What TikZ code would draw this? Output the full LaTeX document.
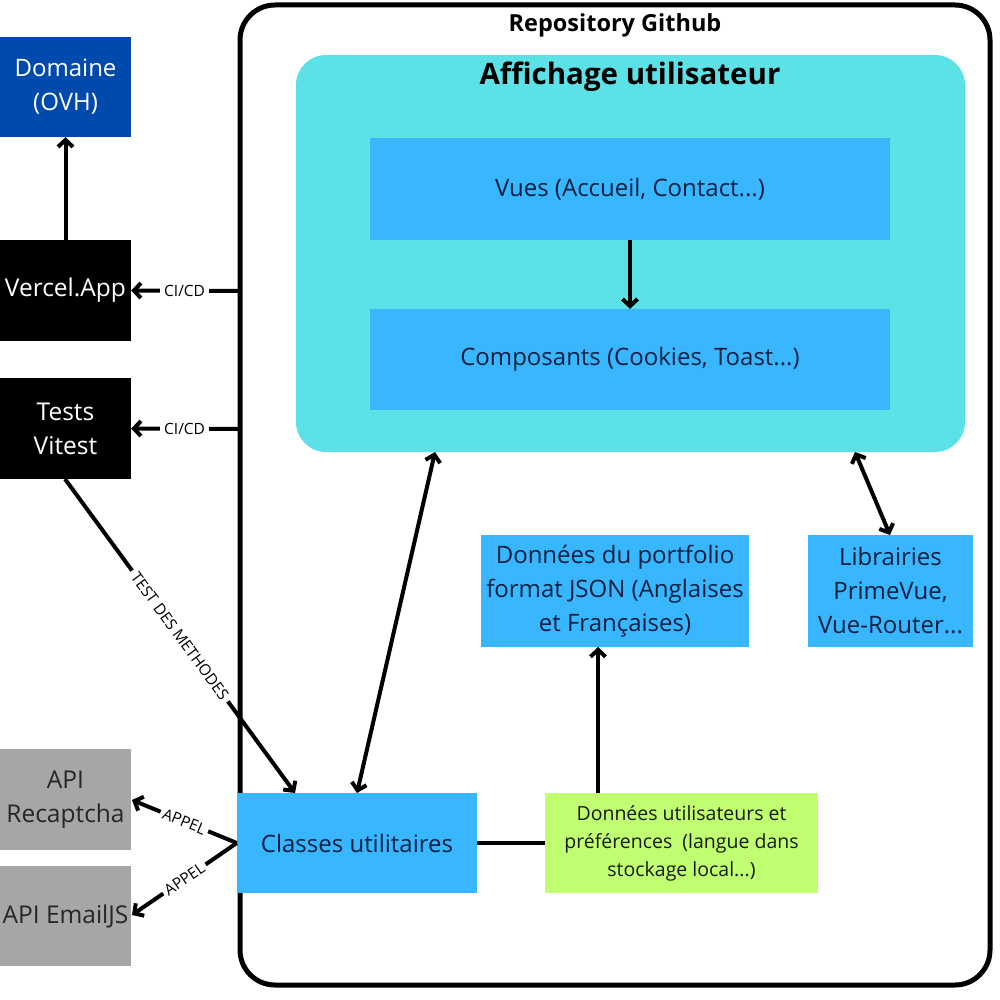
\documentclass[tikz,border=0pt]{standalone}
\usepackage{fontspec}
\setmainfont{Open Sans}
\usetikzlibrary{arrows.meta}
\definecolor{cyanbg}{HTML}{5CE1E6}
\definecolor{bluebox}{HTML}{38B6FF}
\definecolor{darkblue}{HTML}{004AAD}
\definecolor{greybox}{HTML}{A6A6A6}
\definecolor{greenbox}{HTML}{C1FF72}
\definecolor{navytext}{HTML}{0C1F3F}
\tikzset{
  box/.style={rectangle, inner sep=0pt, align=center, font=\fontsize{24}{34}\selectfont},
  bluebx/.style={box, fill=bluebox, text=navytext},
  blackbx/.style={box, fill=black, text=white, font=\fontsize{24.5}{34}\selectfont},
  greybx/.style={box, fill=greybox, text=black!85, font=\fontsize{24.5}{34}\selectfont},
  conn/.style={line width=4pt, line cap=butt},
  tip/.tip={Straight Barb[length=7pt,width=15pt,line width=4pt]},
  arr/.style={conn, -tip},
  darr/.style={conn, tip-tip},
  lbl/.style={fill=white, inner sep=4pt, font=\fontsize{15.5}{17}\selectfont, text=black}
}
\begin{document}
\begin{tikzpicture}[x=1pt,y=-1pt]
\useasboundingbox (0,0) rectangle (1000,1000);
% repository
\node[draw=black, line width=5pt, rounded corners=35pt, minimum width=750pt, minimum height=980pt, inner sep=0pt] (repo) at (615,495) {};
\node[font=\bfseries\fontsize{23.5}{26}\selectfont] (repotitle) at (615,25) {Repository Github};
% affichage
\node[fill=cyanbg, rounded corners=30pt, minimum width=669pt, minimum height=397pt, inner sep=0pt] (aff) at (630.5,253.5) {};
\node[font=\bfseries\fontsize{29.5}{32}\selectfont] (afftitle) at (630,77) {Affichage utilisateur};
\node[bluebx, minimum width=520pt, minimum height=102pt] (vues) at (630,189) {Vues (Accueil, Contact...)};
\node[bluebx, minimum width=520pt, minimum height=101pt] (comp) at (630,359.5) {Composants (Cookies, Toast...)};
% left column
\node[box, fill=darkblue, text=white, minimum width=131pt, minimum height=100pt] (dom) at (65.5,87) {Domaine\\(OVH)};
\node[blackbx, minimum width=131pt, minimum height=101pt] (vercel) at (65.5,290.5) {Vercel.App};
\node[blackbx, minimum width=131pt, minimum height=101pt] (tests) at (65.5,428.5) {Tests\\Vitest};
\node[greybx, minimum width=131pt, minimum height=101pt] (recap) at (65.5,799.5) {API\\Recaptcha};
\node[greybx, minimum width=131pt, minimum height=100pt] (email) at (65.5,916) {API EmailJS};
% bottom boxes
\node[bluebx, minimum width=240pt, minimum height=100pt] (classes) at (357,843) {Classes utilitaires};
\node[box, fill=greenbox, text=black!90, font=\fontsize{19.5}{28}\selectfont, minimum width=273pt, minimum height=100pt] (duser) at (681.5,843) {Données utilisateurs et\\préférences~~(langue dans\\stockage local...)};
\node[bluebx, minimum width=268pt, minimum height=112pt] (dport) at (615,591) {Données du portfolio\\format JSON (Anglaises\\et Françaises)};
\node[bluebx, minimum width=165pt, minimum height=112pt] (lib) at (890.5,591) {Librairies\\PrimeVue,\\Vue-Router...};
% coordinates
\coordinate (ci1) at (238,291);
\coordinate (ci2) at (238,429);
\coordinate (affA) at (435,452);
\coordinate (affB) at (855,452);
\coordinate (clsA) at (357,793);
\coordinate (clsB) at (295,793);
\coordinate (libT) at (890,535);
\coordinate (testB) at (65,479);
\coordinate (recE) at (132,800);
\coordinate (emE) at (132,915);
\coordinate (dusT) at (598,793);
\coordinate (dpoB) at (598,647);
% connectors
\draw[arr] (vues.south) -- (comp.north);
\draw[arr] (vercel.north) -- (dom.south);
\draw[arr] (ci1) -- node[lbl]{CI/CD} (vercel.east);
\draw[arr] (ci2) -- node[lbl]{CI/CD} (tests.east);
\draw[arr] (testB) -- node[lbl, sloped]{TEST DES METHODES} (clsB);
\draw[arr] (classes.west) -- node[lbl, sloped, inner sep=3pt]{APPEL} (recE);
\draw[arr] (classes.west) -- node[lbl, sloped, inner sep=3pt]{APPEL} (emE);
\draw[darr] (clsA) -- (affA);
\draw[darr] (libT) -- (affB);
\draw[conn] (classes.east) -- (duser.west);
\draw[arr] (dusT) -- (dpoB);
\end{tikzpicture}
\end{document}
